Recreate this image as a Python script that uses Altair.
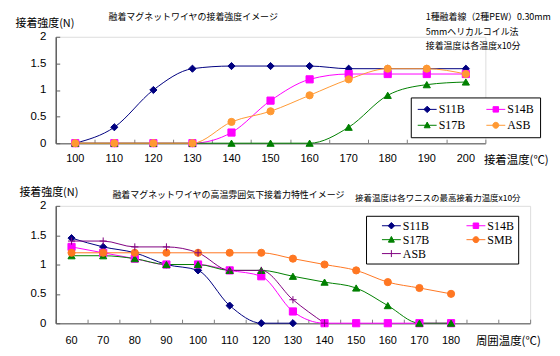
import altair as alt
import pandas as pd

JP = "Noto Sans CJK JP"
NUM = "Liberation Sans"
LEG = "Liberation Serif"

# ---------------- top panel data ----------------
top_categories = [100, 110, 120, 130, 140, 150, 160, 170, 180, 190, 200]
top_series = ["S11B", "S14B", "S17B", "ASB"]
top_s11b = [0, 0.3, 1.0, 1.4, 1.45, 1.45, 1.45, 1.4, 1.4, 1.4, 1.4]
top_s14b = [0, 0, 0, 0, 0.2, 0.8, 1.2, 1.3, 1.3, 1.3, 1.3]
top_s17b = [0, 0, 0, 0, 0, 0, 0, 0.3, 0.9, 1.1, 1.15]
top_asb = [0, 0, 0, 0, 0.4, 0.6, 0.9, 1.2, 1.4, 1.4, 1.3]
top_colors = ["#000080", "#FF00FF", "#008000", "#FF9933"]
# legend entries fill column by column: order so rows read S11B S14B / S17B ASB
top_legend_order = ["S11B", "S17B", "S14B", "ASB"]

top_title = "融着マグネットワイヤの接着強度イメージ"
top_notes = ["1種融着線（2種PEW）0.30mm", "5mmヘリカルコイル法", "接着温度は各温度x10分"]
top_xtitle = "接着温度(℃)"

# ---------------- bottom panel data ----------------
bot_categories = [60, 70, 80, 90, 100, 110, 120, 130, 140, 150, 160, 170, 180, 190, 200]
bot_x = [60, 70, 80, 90, 100, 110, 120, 130, 140, 150, 160, 170, 180]
bot_series = ["S11B", "S14B", "S17B", "SMB", "ASB"]
bot_s11b = [1.45, 1.3, 1.2, 1.0, 0.9, 0.3, 0, 0]
bot_s14b = [1.3, 1.2, 1.1, 1.0, 1.0, 0.9, 0.8, 0.2, 0, 0, 0, 0, 0]
bot_s17b = [1.15, 1.15, 1.1, 1.0, 1.0, 0.9, 0.9, 0.8, 0.7, 0.6, 0.3, 0, 0]
bot_smb = [1.2, 1.2, 1.2, 1.2, 1.2, 1.2, 1.2, 1.1, 1.0, 0.9, 0.7, 0.6, 0.5]
bot_asb = [1.4, 1.4, 1.3, 1.3, 1.2, 0.9, 0.9, 0.4, 0]
bot_colors = ["#000080", "#FF00FF", "#008000", "#FF7722", "#800080"]
# rows read S11B S14B / S17B SMB / ASB
bot_legend_order = ["S11B", "S17B", "ASB", "S14B", "SMB"]

bot_title = "融着マグネットワイヤの高温雰囲気下接着力特性イメージ"
bot_note = "接着温度は各ワニスの最高接着力温度x10分"
bot_xtitle = "周囲温度(℃)"

ytitle = "接着強度(N)"
y_ticks = [0, 0.5, 1, 1.5, 2]

# marker shapes (plot) and legend symbols (line + marker)
PLUS = "M-1,0H1M0,-1V1"
L_DIAMOND = "M-1,0H2.8M0.9,-0.65L1.55,0L0.9,0.65L0.25,0Z"
L_SQUARE = "M-1,0H2.8M0.35,-0.55H1.45V0.55H0.35Z"
L_TRI = "M-1,0H2.8M0.9,-0.65L1.5,0.5H0.3Z"
L_CIRCLE = "M-1,0H2.8M0.3,0A0.6,0.6,0,1,0,1.5,0A0.6,0.6,0,1,0,0.3,0Z"
L_PLUS = "M-1,0H2.8M0.9,-0.7V0.7"

top_shapes = ["diamond", "square", "triangle-up", "circle"]
top_legend_shapes = [L_DIAMOND, L_SQUARE, L_TRI, L_CIRCLE]
bot_shapes = ["diamond", "square", "triangle-up", "circle", PLUS]
bot_legend_shapes = [L_DIAMOND, L_SQUARE, L_TRI, L_CIRCLE, L_PLUS]


def long_df(series, xs, ys_list):
    rows = []
    for s, ys in zip(series, ys_list):
        for x, y in zip(xs, ys):
            rows.append({"series": s, "x": x, "y": y})
    return pd.DataFrame(rows)


top_df = long_df(top_series, top_categories, [top_s11b, top_s14b, top_s17b, top_asb])
bot_df = long_df(bot_series, bot_x, [bot_s11b, bot_s14b, bot_s17b, bot_smb, bot_asb])


def text_layer(txt, x, y, size):
    return alt.Chart(alt.Data(values=[{}])).mark_text(
        font=JP, fontSize=size, align="left", baseline="middle", color="black"
    ).encode(x=alt.value(x), y=alt.value(y), text=alt.value(txt))


def reorder(order, series, values):
    lookup = dict(zip(series, values))
    return [lookup[s] for s in order]


def panel(df, categories, series, colors, shapes, legend_shapes, legend_order, W, H,
          xtitle, xtitle_pos, ytitle_pos, label_pad, legend_kw, texts,
          label_expr=None):
    xscale = alt.Scale(type="band", domain=categories, paddingInner=0, paddingOuter=0)
    yscale = alt.Scale(domain=[0, 2], nice=False)

    xkw = dict(orient="bottom", ticks=False, tickSize=0, domainColor="#808080",
               domainWidth=1.5, labelFont=NUM, labelFontSize=11, labelColor="black",
               labelPadding=label_pad, labelAngle=0, grid=False, title=xtitle,
               titleFont=JP, titleFontSize=11.5, titleFontWeight="normal",
               titleColor="black", titleX=xtitle_pos[0], titleY=xtitle_pos[1],
               titleAlign="left", titleBaseline="middle")
    if label_expr:
        xkw["labelExpr"] = label_expr
    x_main = alt.Axis(**xkw)
    y_main = alt.Axis(orient="left", values=y_ticks, format=".1~f", ticks=False,
                      tickSize=0, domainColor="#606060", domainWidth=1.5,
                      labelFont=NUM, labelFontSize=11.5, labelColor="black",
                      labelPadding=10, grid=False, title=ytitle, titleAngle=0,
                      titleX=ytitle_pos[0], titleY=ytitle_pos[1], titleAlign="left",
                      titleBaseline="middle", titleFont=JP, titleFontSize=11,
                      titleFontWeight="normal", titleColor="black")
    x_ticks = alt.Axis(orient="top", offset=-H, tickBand="extent", labels=False,
                       domain=False, ticks=True, tickSize=4, tickColor="#808080",
                       grid=False, title=None)
    y_tick_ax = alt.Axis(orient="right", offset=-W, values=y_ticks, labels=False,
                         domain=False, ticks=True, tickSize=4, tickColor="#606060",
                         grid=False, title=None)

    base = alt.Chart(df)
    lines = base.mark_line(interpolate="monotone", strokeWidth=1).encode(
        x=alt.X("x:O", scale=xscale, axis=x_main),
        y=alt.Y("y:Q", scale=yscale, axis=y_main),
        color=alt.Color("series:N", scale=alt.Scale(domain=series, range=colors), legend=None),
    )
    points = base.mark_point(filled=True, opacity=1, size=52, strokeWidth=1).encode(
        x=alt.X("x:O", scale=xscale, axis=None),
        y=alt.Y("y:Q", scale=yscale, axis=None),
        fill=alt.Fill("series:N", scale=alt.Scale(domain=series, range=colors), legend=None),
        stroke=alt.Stroke("series:N", scale=alt.Scale(domain=series, range=colors), legend=None),
        shape=alt.Shape("series:N", scale=alt.Scale(domain=series, range=shapes), legend=None),
    )
    lg = alt.Legend(title=None, orient="none", columns=2, strokeColor="#000000",
                    fillColor="#FFFFFF", labelFont=LEG, labelFontSize=12,
                    labelColor="black", labelOffset=10, symbolSize=100,
                    symbolStrokeWidth=1, symbolOpacity=1, cornerRadius=0, **legend_kw)
    leg_colors = reorder(legend_order, series, colors)
    leg_shapes = reorder(legend_order, series, legend_shapes)
    legend_layer = base.transform_filter("datum.y < -1").mark_point(
        filled=True, opacity=1, size=100, strokeWidth=1
    ).encode(
        x=alt.X("x:O", scale=xscale, axis=x_ticks),
        y=alt.Y("y:Q", scale=yscale, axis=y_tick_ax),
        fill=alt.Fill("series:N", scale=alt.Scale(domain=legend_order, range=leg_colors), legend=lg),
        stroke=alt.Stroke("series:N", scale=alt.Scale(domain=legend_order, range=leg_colors), legend=lg),
        shape=alt.Shape("series:N", scale=alt.Scale(domain=legend_order, range=leg_shapes), legend=lg),
    )
    layers = [lines, points, legend_layer] + [text_layer(*t) for t in texts]
    return alt.layer(*layers).resolve_scale(
        fill="independent", stroke="independent", shape="independent"
    ).resolve_axis(x="independent", y="independent").properties(width=W, height=H)


top = panel(
    top_df, top_categories, top_series, top_colors, top_shapes, top_legend_shapes,
    top_legend_order, 432, 107, top_xtitle, (430, 17), (-41, -13), 9,
    dict(legendX=357, legendY=61, columnPadding=19, rowPadding=4, padding=6),
    [(top_title, 53, -20, 9),
     (top_notes[0], 372, -20, 9),
     (top_notes[1], 372, -5, 9),
     (top_notes[2], 372, 9, 9)],
)

bottom = panel(
    bot_df, bot_categories, bot_series, bot_colors, bot_shapes, bot_legend_shapes,
    bot_legend_order, 477, 118, bot_xtitle, (422, 18), (-37, -13), 11,
    dict(legendX=312, legendY=10, columnPadding=25, rowPadding=2, padding=4,
         symbolOffset=11,
         labelExpr="datum.label == 'S14B' || datum.label == 'SMB' ? datum.label + '\u2003\u2003' : datum.label"),
    [(bot_title, 57, -11, 9),
     (bot_note, 301, -8, 8.5)],
    label_expr="datum.value > 180 ? '' : datum.label",
)

chart = alt.vconcat(top, bottom, spacing=63, bounds="flush").resolve_scale(
    color="independent", fill="independent", stroke="independent", shape="independent"
).properties(
    padding={"left": 6, "top": 3, "right": 0, "bottom": 0}
).configure_view(stroke=None).configure(background="white")

chart.save("out.html", embed_options={"renderer": "svg", "actions": False})
